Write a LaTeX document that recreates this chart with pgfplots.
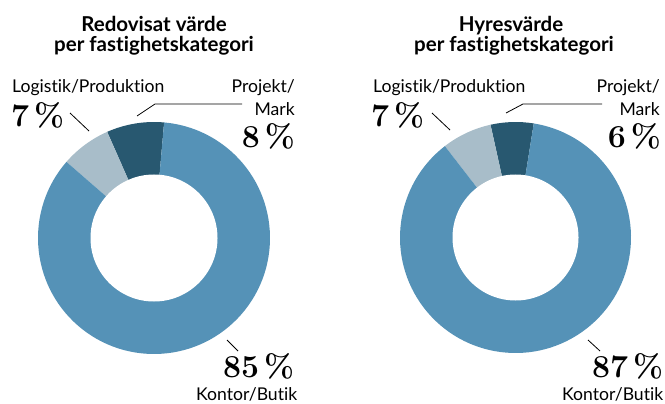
\documentclass[border=0pt]{standalone}
\usepackage{pgfplots}
\pgfplotsset{compat=1.18}
\usepackage{pgfplotstable}
\usepackage{fontspec}
\setmainfont{Lato}[Ligatures={NoCommon,NoRare}]
\newfontfamily\numfont{Latin Modern Roman}

\definecolor{cK}{HTML}{5592B7}
\definecolor{cL}{HTML}{A8BDC9}
\definecolor{cP}{HTML}{285870}

\pgfplotstableread{
kategori andel
Kontor/Butik 85
Logistik/Produktion 7
Projekt/Mark 8
}\redovisat

\pgfplotstableread{
kategori andel
Kontor/Butik 87
Logistik/Produktion 7
Projekt/Mark 6
}\hyresvarde

% angles (counter-clockwise) from the start angle #2
\newcommand\getangles[2]{%
  \pgfmathsetmacro\aS{#2}%
  \pgfplotstablegetelem{2}{andel}\of#1\pgfmathsetmacro\aP{\aS+3.6*\pgfplotsretval}%
  \pgfplotstablegetelem{1}{andel}\of#1\pgfmathsetmacro\aL{\aP+3.6*\pgfplotsretval}%
  \pgfplotstablegetelem{0}{andel}\of#1\pgfmathsetmacro\aK{\aL+3.6*\pgfplotsretval}%
}
\newcommand\donut[2]{% outer, inner radius
  \fill[cP] (axis cs:0,0) -- ++(\aS:#1) arc[start angle=\aS, end angle=\aP, radius=#1] -- cycle;
  \fill[cL] (axis cs:0,0) -- ++(\aP:#1) arc[start angle=\aP, end angle=\aL, radius=#1] -- cycle;
  \fill[cK] (axis cs:0,0) -- ++(\aL:#1) arc[start angle=\aL, end angle=\aK, radius=#1] -- cycle;
  \fill[white] (axis cs:0,0) circle[radius=#2];
}

\pgfplotsset{donutaxis/.style={scale only axis, anchor=center, xmin=-1, xmax=1, ymin=-1, ymax=1,
  axis lines=none, ticks=none, clip=false}}

\newcommand\pct[1]{#1\kern5bp\%}

\begin{document}
\begin{tikzpicture}[x=1bp,y=1bp]
\useasboundingbox (0,0) rectangle (665,403);

\getangles{\redovisat}{85}
\begin{axis}[donutaxis, at={(154bp,165bp)}, width=232bp, height=232bp]
\donut{116bp}{63.5bp}
\end{axis}

\getangles{\hyresvarde}{80.9}
\begin{axis}[donutaxis, at={(515.5bp,165.5bp)}, width=231bp, height=231bp]
\donut{115.5bp}{63bp}
\end{axis}

% titles
\begin{scope}[every node/.style={inner sep=0, anchor=base, font=\bfseries\fontsize{20.5bp}{20bp}\selectfont}]
\node at (154,372) {Redovisat värde};
\node at (154,352) {per fastighetskategori};
\node at (511,372) {Hyresvärde};
\node at (514,352) {per fastighetskategori};
\end{scope}

% labels
\begin{scope}[every node/.style={inner sep=0, font=\fontsize{17.6bp}{20bp}\selectfont}]
\node[anchor=base west] at (12,311) {Logistik/Produktion};
\node[anchor=base east] at (295,311) {Projekt/};
\node[anchor=base east] at (295,288) {Mark};
\node[anchor=base west] at (196,3) {Kontor/Butik};
\node[anchor=base west] at (373,311) {Logistik/Produktion};
\node[anchor=base east] at (660,311) {Projekt/};
\node[anchor=base east] at (660,288) {Mark};
\node[anchor=base west] at (562,3) {Kontor/Butik};
\end{scope}

\begin{scope}[every node/.style={inner sep=0, font=\numfont\bfseries\fontsize{32bp}{34bp}\selectfont}]
\node[anchor=base west] at (11,277) {\pct{7}};
\node[anchor=base east] at (295,256) {\pct{8}};
\node[anchor=base west] at (223,26) {\pct{85}};
\node[anchor=base west] at (371,277) {\pct{7}};
\node[anchor=base east] at (661,256) {\pct{6}};
\node[anchor=base west] at (592,26) {\pct{87}};
\end{scope}

% leader lines
\begin{scope}[line width=0.8bp, black]
\draw (70,290) -- (89,272);
\draw (137,287) -- (155,299) -- (242,299);
\draw (227,63) -- (238,52);
\draw (432,290) -- (450,273);
\draw (506,290) -- (523,299) -- (602,299);
\draw (588,63) -- (600,52);
\end{scope}
\end{tikzpicture}
\end{document}
